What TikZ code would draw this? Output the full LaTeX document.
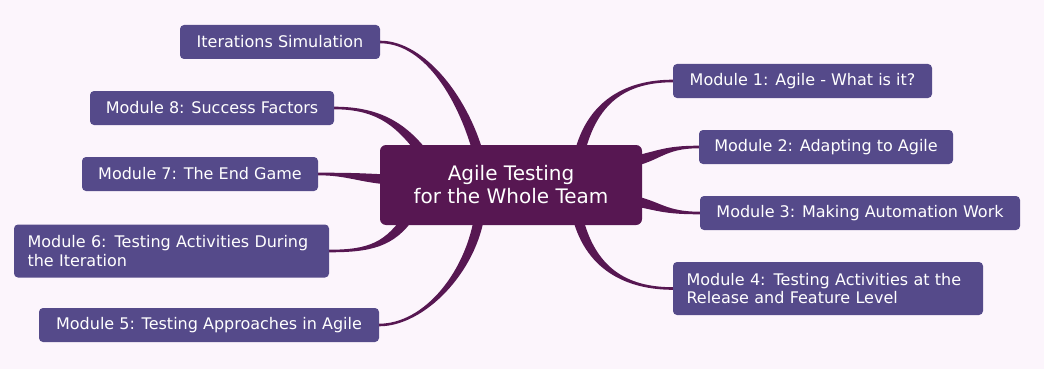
\documentclass[tikz,border=0pt]{standalone}
\usepackage{fontspec}
\setmainfont{DejaVu Sans}
\usetikzlibrary{calc}
\definecolor{bgcol}{HTML}{FCF5FC}
\definecolor{leafcol}{HTML}{554A8A}
\definecolor{hubcol}{HTML}{571752}
\pgfdeclarelayer{back}
\pgfdeclarelayer{branches}
\pgfsetlayers{back,branches,main}
\tikzset{
  leafbox/.style={fill=leafcol, text=white, rounded corners=4pt, inner sep=0pt,
    minimum height=34pt, font=\fontsize{16}{18.5}\selectfont},
  leafwide/.style={leafbox, align=left, inner xsep=13.5pt, inner ysep=0pt, minimum height=53pt},
  hubbox/.style={fill=hubcol, text=white, rounded corners=6pt, minimum width=262pt,
    minimum height=80pt, align=center, font=\fontsize{20}{23}\selectfont},
  branchfill/.style={fill=hubcol}
}
% #1 leaf anchor, #2 first control (rel. to leaf), #3 second control (rel. to root),
% #4 root (rel. to hub centre), #5 half width at root
\newcommand\branch[5]{%
  \fill[branchfill] ($(#1)+(0,-1.3)$)
    .. controls ($(#1)+(#2)+(0,-1.3)$) and ($(hub)+(#4)+(#3)+(#5)$) .. ($(hub)+(#4)+(#5)$)
    -- ($(hub)+(#4)-(#5)$)
    .. controls ($(hub)+(#4)+(#3)-(#5)$) and ($(#1)+(#2)+(0,1.3)$) .. ($(#1)+(0,1.3)$)
    -- cycle;}
\begin{document}
\begin{tikzpicture}[x=1pt,y=-1pt]
\begin{pgfonlayer}{back}
  \fill[bgcol] (0,0) rectangle (1044,369);
\end{pgfonlayer}
\useasboundingbox (0,0) rectangle (1044,369);

\node[hubbox] (hub) at (511,185) {Agile Testing\\for the Whole Team};

\node[leafbox, minimum width=200pt] (iter) at (280,42) {Iterations Simulation};
\node[leafbox, minimum width=244pt] (m8) at (212,108) {Module 8: Success Factors};
\node[leafbox, minimum width=236pt] (m7) at (200,174) {Module 7: The End Game};
\node[leafwide, text width=288pt] (m6) at (171.5,251) {Module 6: Testing Activities During\\the Iteration};
\node[leafbox, minimum width=340pt] (m5) at (209,325) {Module 5: Testing Approaches in Agile};

\node[leafbox, minimum width=259pt] (m1) at (802.5,81) {Module 1: Agile - What is it?};
\node[leafbox, minimum width=254pt] (m2) at (826,147) {Module 2: Adapting to Agile};
\node[leafbox, minimum width=320pt] (m3) at (860,213) {Module 3: Making Automation Work};
\node[leafwide, text width=283pt] (m4) at (828,288.5) {Module 4: Testing Activities at the\\Release and Feature Level};

\begin{pgfonlayer}{branches}
  \branch{iter.east}{45,0}{-15,-60}{-31,-25}{5,-1}
  \branch{m8.east}{45,0}{-25,-35}{-83,-25}{4.3,-2.6}
  \branch{m7.east}{30,0}{-35,-2}{-116,-5}{0.3,-5}
  \branch{m6.east}{40,0}{-20,30}{-101,30}{-4.3,-2.6}
  \branch{m5.east}{45,0}{-8,60}{-31,27}{-5,-0.5}
  \branch{m1.west}{-45,0}{12,-60}{67,-25}{-5,-1}
  \branch{m2.west}{-35,0}{30,-6}{119,-23}{-1,-5}
  \branch{m3.west}{-35,0}{30,6}{119,15}{1,-5}
  \branch{m4.west}{-45,0}{12,60}{65,25}{5,-1}
\end{pgfonlayer}
\end{tikzpicture}
\end{document}
